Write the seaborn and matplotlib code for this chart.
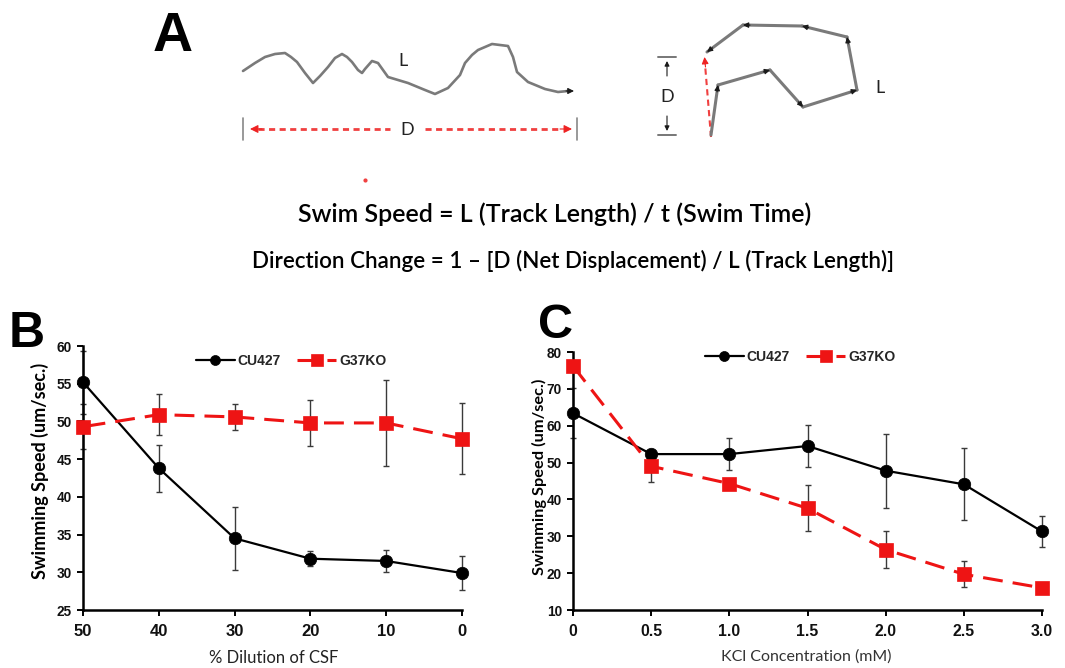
import numpy as np
import pandas as pd
import matplotlib
matplotlib.use("Agg")
import matplotlib.pyplot as plt
import seaborn as sns

# ---------------- data ----------------
# Panel B
dilution = [50, 40, 30, 20, 10, 0]
cu427_b = [55.2, 43.8, 34.5, 31.8, 31.5, 29.9]
cu427_b_err = [4.2, 3.1, 4.2, 1.0, 1.4, 2.3]
g37ko_b = [49.3, 50.9, 50.6, 49.8, 49.8, 47.7]
g37ko_b_err = [3.0, 2.7, 1.7, 3.1, 5.7, 4.7]
b_xticks = [50, 40, 30, 20, 10, 0]
b_yticks = [25, 30, 35, 40, 45, 50, 55, 60]

# Panel C
kcl = [0.0, 0.5, 1.0, 1.5, 2.0, 2.5, 3.0]
kcl_labels = ["0", "0.5", "1.0", "1.5", "2.0", "2.5", "3.0"]
cu427_c = [63.4, 52.3, 52.3, 54.5, 47.8, 44.1, 31.3]
cu427_c_err = [6.8, 1.0, 4.4, 5.6, 10.0, 9.8, 4.2]
g37ko_c = [76.2, 49.0, 44.3, 37.6, 26.4, 19.7, 16.0]
g37ko_c_err = [1.0, 4.2, 1.0, 6.3, 5.0, 3.5, 1.0]
c_yticks = [10, 20, 30, 40, 50, 60, 70, 80]

series_names = ["CU427", "G37KO"]

# Panel A schematic (drawing outline, pixel space)
wave_x = [243, 255, 265, 275, 285, 291, 297, 305, 313, 320, 328, 335, 342, 347, 352, 358,
          362, 365, 372, 378, 388, 398, 408, 425, 435, 448, 460, 465, 472, 478, 492, 508,
          513, 517, 528, 545, 558, 568]
wave_y = [71, 63, 57, 54, 53, 57, 62, 73, 83, 76, 67, 58, 54, 57, 62, 70,
          73, 69, 61, 63, 77, 80, 83, 90, 94, 88, 75, 63, 55, 50, 44, 46,
          57, 72, 82, 89, 92, 91]
track_x = [711, 718, 770, 803, 857, 847, 802, 743, 707]
track_y = [135, 85, 70, 107, 90, 37, 26, 25, 52]
formula_1 = "Swim Speed = L (Track Length) / t (Swim Time)"
formula_2 = "Direction Change = 1 \u2013 [D (Net Displacement) / L (Track Length)]"

# ---------------- style ----------------
sns.set_theme(style="ticks")
plt.rcParams["font.family"] = ["Liberation Sans", "DejaVu Sans"]

W, H = 1065, 668
fig = plt.figure(figsize=(W / 100, H / 100), dpi=100)

BLACK = "#000000"
RED = "#ee1414"
GRAY = "#7a7a7a"
DRED = "#f04040"
LABEL_FONT = ["Lato", "DejaVu Sans"]
TICK_FONT = ["Liberation Sans", "DejaVu Sans"]

# overlay for schematic and panel letters
ov = fig.add_axes([0, 0, 1, 1])
ov.set_xlim(0, W)
ov.set_ylim(H, 0)
ov.axis("off")


def head(x0, y0, x1, y1, color="#1a1a1a", scale=9):
    ov.annotate("", xy=(x1, y1), xytext=(x0, y0),
                arrowprops=dict(arrowstyle="-|>", color=color, lw=0.8,
                                mutation_scale=scale, shrinkA=0, shrinkB=0))


# wavy track
ov.plot(wave_x, wave_y, color=GRAY, lw=1.9, solid_capstyle="round", solid_joinstyle="round")
head(566, 91, 574, 91)
# D measure (left)
ov.plot([243, 243], [118, 140], color="#888888", lw=1.2)
ov.plot([577, 577], [118, 140], color="#888888", lw=1.2)
ov.plot([258, 390], [129, 129], color=DRED, lw=2, dashes=(2.2, 1.6))
ov.plot([425, 562], [129, 129], color=DRED, lw=2, dashes=(2.2, 1.6))
head(262, 129, 250, 129, color="#ee2222", scale=12)
head(560, 129, 572, 129, color="#ee2222", scale=12)
ov.text(407, 130, "D", ha="center", va="center", fontsize=13, family=LABEL_FONT, color="#222222")
ov.text(403, 61, "L", ha="center", va="center", fontsize=13, family=LABEL_FONT, color="#222222")
ov.plot(365, 180, "o", color=DRED, ms=2)

# right diagram
ov.plot([658, 676], [57, 57], color="#777777", lw=1.4)
ov.plot([658, 676], [135, 135], color="#777777", lw=1.4)
head(667, 76, 667, 61, scale=7)
head(667, 116, 667, 131, scale=7)
ov.text(667, 97, "D", ha="center", va="center", fontsize=13, family=LABEL_FONT, color="#222222")
ov.plot([711, 705], [137, 64], color=DRED, lw=1.5, dashes=(3, 2))
head(705.5, 67, 704.5, 57, color="#ee2222", scale=10)
for i in range(len(track_x) - 1):
    x0, y0, x1, y1 = track_x[i], track_y[i], track_x[i + 1], track_y[i + 1]
    ov.plot([x0, x1], [y0, y1], color=GRAY, lw=2.2, solid_capstyle="round")
    d = np.hypot(x1 - x0, y1 - y0)
    ux, uy = (x1 - x0) / d, (y1 - y0) / d
    head(x1 - 7 * ux, y1 - 7 * uy, x1, y1, scale=8)
ov.text(880, 88, "L", ha="center", va="center", fontsize=13, family=LABEL_FONT, color="#222222")

# formulas
ov.text(555, 214, formula_1, ha="center", va="center", fontsize=18, fontweight="semibold",
        family=LABEL_FONT, color=BLACK)
ov.text(573, 261, formula_2, ha="center", va="center", fontsize=16.1, fontweight="semibold",
        family=LABEL_FONT, color=BLACK)

# panel letters
ov.text(173, 37, "A", ha="center", va="center", fontsize=40, fontweight="bold",
        family=["Liberation Sans Narrow", "Liberation Sans"], color=BLACK)
ov.text(27, 334, "B", ha="center", va="center", fontsize=36, fontweight="bold", family=TICK_FONT, color=BLACK)
ov.text(556, 325, "C", ha="center", va="center", fontsize=35, fontweight="bold", family=TICK_FONT, color=BLACK)

# ---------------- panels B and C ----------------
axB = fig.add_axes([83 / W, 58 / H, 379 / W, 264 / H])
axC = fig.add_axes([573 / W, 58 / H, 469 / W, 258 / H])

dfB = pd.DataFrame({"x": dilution, series_names[0]: cu427_b, series_names[1]: g37ko_b})
dfC = pd.DataFrame({"x": kcl, series_names[0]: cu427_c, series_names[1]: g37ko_c})


def draw(ax, df, errs):
    for name, color, marker, ms, lw, ls, err in [
        (series_names[0], BLACK, "o", 9, 1.6, "-", errs[0]),
        (series_names[1], RED, "s", 10.5, 2.2, (0, (6.5, 3.3)), errs[1]),
    ]:
        ax.errorbar(df["x"], df[name], yerr=err, fmt="none", ecolor="#3a3a3a",
                    elinewidth=1.0, capsize=2.5, capthick=1.0, clip_on=False, zorder=2)
        sns.lineplot(data=df, x="x", y=name, ax=ax, color=color, marker=marker,
                     markersize=ms, markeredgecolor=color, markeredgewidth=0.5,
                     linewidth=lw, linestyle=ls, label=name, clip_on=False,
                     zorder=3, errorbar=None)


draw(axB, dfB, [cu427_b_err, g37ko_b_err])
draw(axC, dfC, [cu427_c_err, g37ko_c_err])

axB.set_xlim(50, 0)
axB.set_ylim(25, 60)
axB.set_xticks(b_xticks)
axB.set_xticklabels([str(v) for v in b_xticks])
axB.set_yticks(b_yticks)
axB.set_yticklabels([str(v) for v in b_yticks])

axC.set_xlim(0, 3.0)
axC.set_ylim(10, 80)
axC.set_xticks(kcl)
axC.set_xticklabels(kcl_labels)
axC.set_yticks(c_yticks)
axC.set_yticklabels([str(v) for v in c_yticks])

tick_sizes = {axB: (12, 9.8), axC: (11.4, 9.8)}
for ax in (axB, axC):
    ax.set_facecolor("none")
    sns.despine(ax=ax)
    for s in ("left", "bottom"):
        ax.spines[s].set_linewidth(1.8)
        ax.spines[s].set_color(BLACK)
    ax.tick_params(axis="both", direction="out", length=4, width=1.4, color=BLACK,
                   labelcolor="#111111")
    ax.tick_params(axis="x", pad=6, labelsize=tick_sizes[ax][0])
    ax.tick_params(axis="y", pad=4, labelsize=tick_sizes[ax][1])
    for lbl in ax.get_xticklabels() + ax.get_yticklabels():
        lbl.set_fontweight("bold")
        lbl.set_family(TICK_FONT)

axB.set_ylabel("Swimming Speed (um/sec.)", fontsize=13, fontweight="bold",
               family=LABEL_FONT, color=BLACK)
axC.set_ylabel("Swimming Speed (um/sec.)", fontsize=11.8, fontweight="bold",
               family=LABEL_FONT, color=BLACK)
axB.set_xlabel("% Dilution of CSF", fontsize=12, family=LABEL_FONT, color="#222222")
axC.set_xlabel("KCl Concentration (mM)", fontsize=11.5, family=LABEL_FONT, color="#333333")
for ax in (axB, axC):
    ax.xaxis.label.set_va("center")
    ax.yaxis.label.set_va("center")

axB.yaxis.set_label_coords(-0.113, 0.527)
axB.xaxis.set_label_coords(0.503, -0.182)
axC.yaxis.set_label_coords(-0.0725, 0.515)
axC.xaxis.set_label_coords(0.498, -0.182)

legend_centers = [((291 / W), (H - 361) / H), ((800 / W), (H - 357) / H)]
for ax, (lx, ly) in zip((axB, axC), legend_centers):
    ax.legend(loc="center", bbox_to_anchor=(lx, ly), bbox_transform=fig.transFigure,
              ncol=2, frameon=False, prop={"family": TICK_FONT, "weight": "bold", "size": 10},
              handlelength=2.8, columnspacing=1.2, handletextpad=0.2, markerscale=0.8)

fig.savefig("out.png", dpi=100, facecolor="white")
